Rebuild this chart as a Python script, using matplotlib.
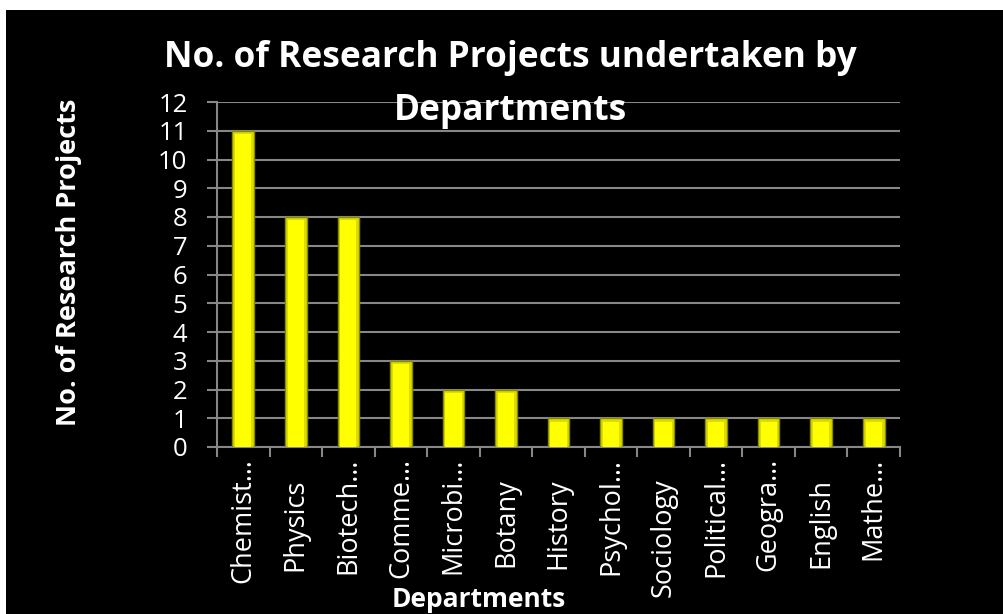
import matplotlib
matplotlib.use('Agg')
import matplotlib.pyplot as plt
from matplotlib.patches import Rectangle

# Data
departments = ['Chemist…', 'Physics', 'Biotech…', 'Comme…', 'Microbi…', 'Botany',
               'History', 'Psychol…', 'Sociology', 'Political…', 'Geogra…',
               'English', 'Mathe…']
projects = [11, 8, 8, 3, 2, 2, 1, 1, 1, 1, 1, 1, 1]
yticks = list(range(0, 13))

plt.rcParams['font.family'] = ['Open Sans', 'DejaVu Sans']

W, H = 1004, 614
fig = plt.figure(figsize=(W / 100, H / 100), dpi=100, facecolor='white')
# black slide background with thin white margin top/left
fig.patches.append(Rectangle((6 / W, 0), 1, 1 - 10 / H, transform=fig.transFigure,
                             facecolor='black', edgecolor='none', zorder=-1))

ax = fig.add_axes([217 / W, 1 - 447 / H, (900 - 217) / W, (447 - 102) / H])
ax.patch.set_alpha(0)

x = list(range(len(departments)))
# bevelled look: darker outer bar + bright inner face
ax.bar(x, projects, width=0.41, color='#dcdc00', edgecolor='#8a8a00', linewidth=1.0, zorder=3)
ax.bar(x, [v - 0.12 for v in projects], width=0.31, color='#ffff00', linewidth=0, zorder=4)

ax.set_xlim(-0.5, len(departments) - 0.5)
ax.set_ylim(0, 12)
ax.set_yticks(yticks)
ax.yaxis.grid(True, color='#878787', linewidth=1.5)
ax.set_axisbelow(True)

ax.set_xticks([i + 0.5 for i in range(-1, len(departments))], minor=True)
ax.set_xticks(x)
ax.set_xticklabels(departments, rotation=90, color='white', fontsize=19.5,
                   va='top', ha='center')
ax.tick_params(axis='x', which='major', length=0, pad=8)
ax.tick_params(axis='x', which='minor', length=7.2, width=1.5, color='#878787')
ax.tick_params(axis='y', length=7.2, width=1.5, color='#878787', labelcolor='white',
               labelsize=18.5, pad=14)
# full (non-truncated) labels sit a bit lower than the truncated ones
for lab in ax.get_xticklabels():
    if not lab.get_text().endswith('…'):
        lab.set_y(-20 / 345)

for s in ['top', 'right']:
    ax.spines[s].set_visible(False)
for s in ['left', 'bottom']:
    ax.spines[s].set_color('#878787')
    ax.spines[s].set_linewidth(1.5)

fig.text(510 / W, 1 - 67 / H, 'No. of Research Projects undertaken by', color='white',
         fontsize=25.4, fontweight='bold', ha='center', va='baseline')
fig.text(511 / W, 1 - 120 / H, 'Departments', color='white',
         fontsize=25.4, fontweight='bold', ha='center', va='baseline')
fig.text(69 / W, 1 - 262 / H, 'No. of Research Projects', color='white', rotation=90,
         fontsize=19.5, fontweight='bold', ha='center', va='center')
fig.text(479 / W, 1 - 607 / H, 'Departments', color='white',
         fontsize=19, fontweight='bold', ha='center', va='baseline')

fig.savefig('out.png', dpi=100, facecolor='white')
